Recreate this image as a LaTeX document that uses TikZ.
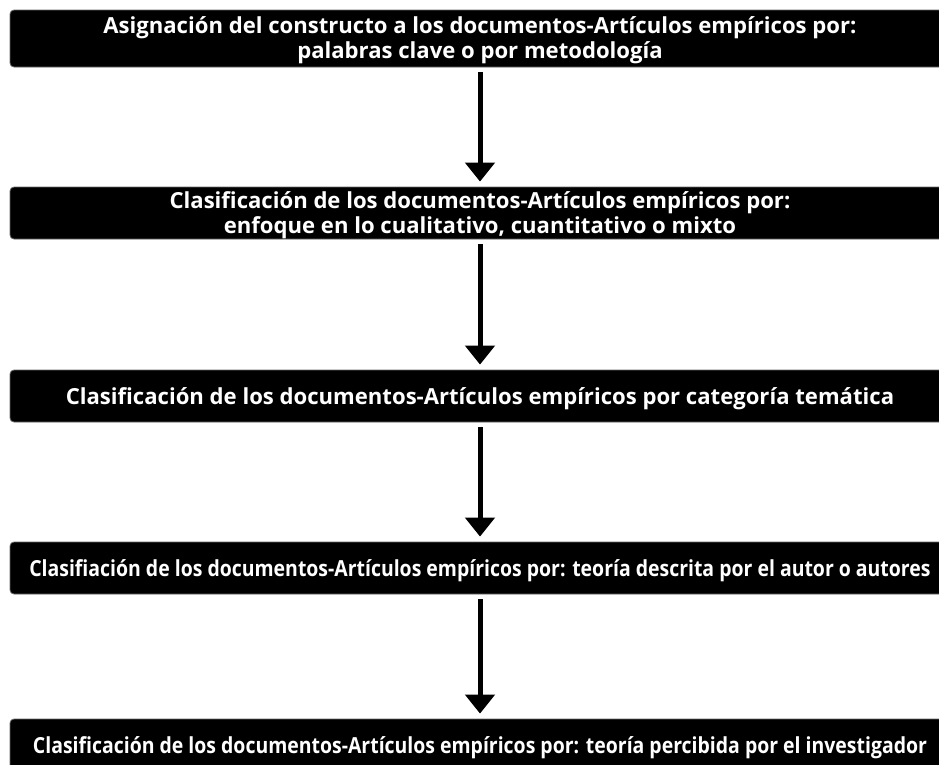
\documentclass[tikz,border=0pt]{standalone}
\usepackage{fontspec}
\setmainfont{Open Sans}
\newfontfamily\condfont[FakeStretch=0.88]{Open Sans}
\usetikzlibrary{arrows.meta}
\tikzset{
  stepbox/.style={fill=black, draw=black!60, line width=0.8pt, rounded corners=4pt,
    text=white, font=\fontsize{22.1}{25}\selectfont\bfseries,
    minimum width=940pt, inner sep=0pt, text height=16pt, text depth=0pt},
  twoline/.style={text height=0pt, text depth=#1},
  condbox/.style={stepbox, font=\fontsize{22.1}{25}\condfont\bfseries},
  flow/.style={line width=5pt, -{Triangle[width=29pt,length=19pt]}, shorten >=5pt, shorten <=5pt}
}
\begin{document}
\begin{tikzpicture}[x=1pt,y=-1pt]
\useasboundingbox (0,0) rectangle (939,764);
\clip (0,0) rectangle (939,764);
\node[stepbox, twoline=11pt, minimum height=57pt] (b1) at (480,38.5) {\begin{tabular}[t]{@{}c@{}}Asignación del constructo a los documentos-Artículos empíricos por:\\palabras clave o por metodología\end{tabular}};
\node[stepbox, twoline=10pt, minimum height=52pt] (b2) at (480,213) {\begin{tabular}[t]{@{}c@{}}Clasificación de los documentos-Artículos empíricos por:\\enfoque en lo cualitativo, cuantitativo o mixto\end{tabular}};
\node[stepbox, minimum height=52pt] (b3) at (480,396) {Clasificación de los documentos-Artículos empíricos por categoría temática};
\node[condbox, minimum height=52pt] (b4) at (480,568) {Clasifiación de los documentos-Artículos empíricos por: teoría descrita por el autor o autores};
\node[condbox, minimum height=52pt] (b5) at (480,745) {Clasificación de los documentos-Artículos empíricos por: teoría percibida por el investigador};
\draw[flow] (b1) -- (b2);
\draw[flow] (b2) -- (b3);
\draw[flow] (b3) -- (b4);
\draw[flow] (b4) -- (b5);
\end{tikzpicture}
\end{document}
